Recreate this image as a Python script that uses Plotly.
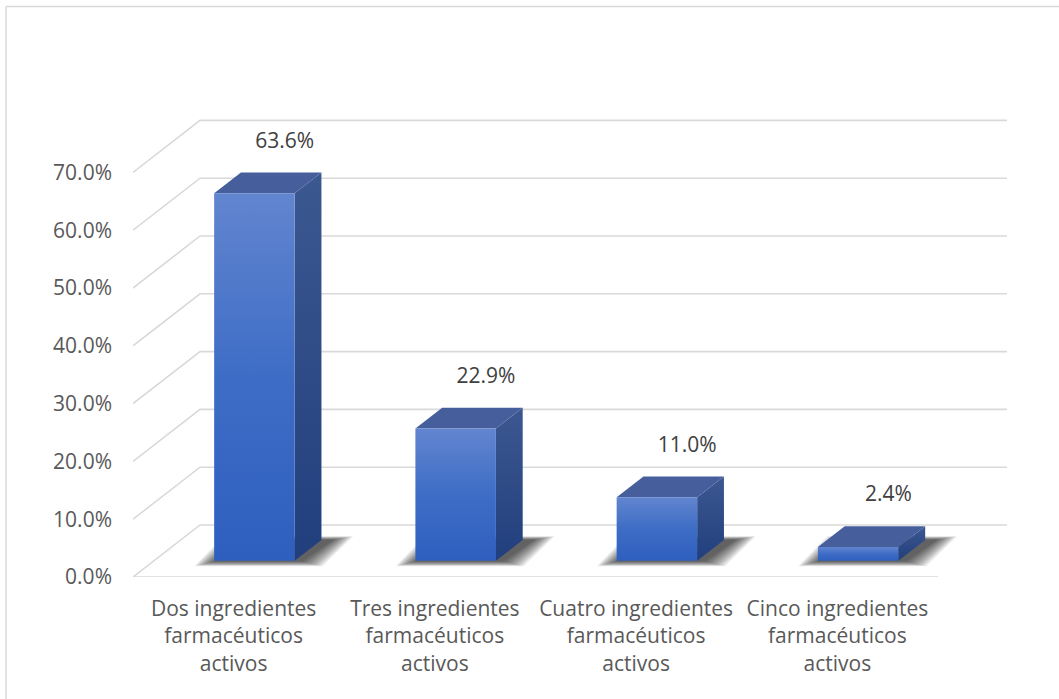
import plotly.graph_objects as go

# --- data ---
categories = [
    "Dos ingredientes<br>farmacéuticos<br>activos",
    "Tres ingredientes<br>farmacéuticos<br>activos",
    "Cuatro ingredientes<br>farmacéuticos<br>activos",
    "Cinco ingredientes<br>farmacéuticos<br>activos",
]
values = [63.6, 22.9, 11.0, 2.4]
y_ticks = [0, 10, 20, 30, 40, 50, 60, 70]

# --- pseudo-3D geometry (data units) ---
DX, DY = 0.333, 9.0        # depth of floor/walls
F1, FD = 0.31, 0.40        # bar front depth fraction and bar depth
W = 0.40                   # bar width
X_MAX = -0.5 + 877 / 201.25
Y_MAX = 477 / 5.78

FONT = "Open Sans"
AXIS_COL = "#595959"

fig = go.Figure()

# gridlines: side-wall diagonals + back-wall horizontals, plus the front floor edge
gx, gy = [-0.5, 3.5, None], [0, 0, None]
for v in y_ticks:
    gx += [-0.5, -0.5 + DX, 3.5 + DX + 0.01, None]
    gy += [v, v + DY, v + DY, None]
fig.add_trace(go.Scatter(x=gx, y=gy, mode="lines",
                         line=dict(color="#D9D9D9", width=1.6),
                         hoverinfo="skip", showlegend=False))

b0 = F1 * DY
fdx, fdy = FD * DX, FD * DY

for i, v in enumerate(values):
    xl = i + F1 * DX - W / 2
    xr = xl + W
    # soft floor shadow, built from stacked translucent layers
    n_layers = 12
    for k in range(n_layers, 0, -1):
        ex = 0.009 * k
        ey = 0.22 * k
        sx = [xl - ex + 0.01, xr + ex + 0.03, xr + fdx + ex + 0.05,
              xl + fdx - ex + 0.02]
        sy = [b0 - ey * 0.35, b0 - ey * 0.35, b0 + fdy + ey * 0.25,
              b0 + fdy + ey * 0.25]
        fig.add_trace(go.Scatter(x=sx + [sx[0]], y=sy + [sy[0]], mode="lines",
                                 fill="toself", fillcolor="rgba(0,0,0,0.075)",
                                 line=dict(width=0), hoverinfo="skip",
                                 showlegend=False))
    top = b0 + v
    # side face
    fig.add_trace(go.Scatter(
        x=[xr, xr + fdx, xr + fdx, xr, xr],
        y=[b0, b0 + fdy, top + fdy, top, b0],
        mode="lines", fill="toself", line=dict(width=0),
        fillgradient=dict(type="vertical", start=b0, stop=top + fdy,
                          colorscale=[[0, "#213F7D"], [1, "#3C5891"]]),
        hoverinfo="skip", showlegend=False))
    # top face
    fig.add_trace(go.Scatter(
        x=[xl, xr, xr + fdx, xl + fdx, xl],
        y=[top, top, top + fdy, top + fdy, top],
        mode="lines", fill="toself", fillcolor="#465E9C", line=dict(width=0),
        hoverinfo="skip", showlegend=False))
    # front face
    fig.add_trace(go.Scatter(
        x=[xl, xr, xr, xl, xl],
        y=[b0, b0, top, top, b0],
        mode="lines", fill="toself", line=dict(width=0),
        fillgradient=dict(type="vertical", start=b0, stop=top,
                          colorscale=[[0, "#2E5FBF"], [0.5, "#3E6DC6"],
                                      [1, "#6285CF"]]),
        hoverinfo="skip", showlegend=False))

# value labels above each bar
lx = [i + F1 * DX + 0.15 for i in range(len(values))]
ly = [b0 + v + fdy + 5.2 for v in values]
fig.add_trace(go.Scatter(
    x=lx, y=ly, mode="text", text=[f"{v:.1f}%" for v in values],
    textposition="middle center",
    textfont=dict(family=FONT, size=21, color="#404040"),
    hoverinfo="skip", showlegend=False))

fig.update_layout(
    width=1059, height=699, autosize=False,
    margin=dict(l=133, r=49, t=100, b=122),
    paper_bgcolor="white", plot_bgcolor="white",
    showlegend=False,
    xaxis=dict(range=[-0.5, X_MAX], tickvals=list(range(len(categories))),
               ticktext=categories, showgrid=False, zeroline=False,
               showline=False, ticks="", ticklabelstandoff=17,
               tickfont=dict(family=FONT, size=21, color=AXIS_COL),
               fixedrange=True),
    yaxis=dict(range=[0, Y_MAX], tickvals=y_ticks,
               ticktext=[f"{v:.1f}%" for v in y_ticks],
               showgrid=False, zeroline=False, showline=False, ticks="",
               ticklabelstandoff=20,
               tickfont=dict(family=FONT, size=21, color=AXIS_COL),
               fixedrange=True),
    shapes=[
        dict(type="line", xref="paper", yref="paper",
             x0=(6 - 133) / 877, x1=1.1, y0=(577 - 6.5) / 477, y1=(577 - 6.5) / 477,
             line=dict(color="#D9D9D9", width=1.5)),
        dict(type="line", xref="paper", yref="paper",
             x0=(6 - 133) / 877, x1=(6 - 133) / 877, y0=(577 - 6.5) / 477,
             y1=-0.5, line=dict(color="#D9D9D9", width=1.5)),
    ],
)

fig.write_html("out.html")
